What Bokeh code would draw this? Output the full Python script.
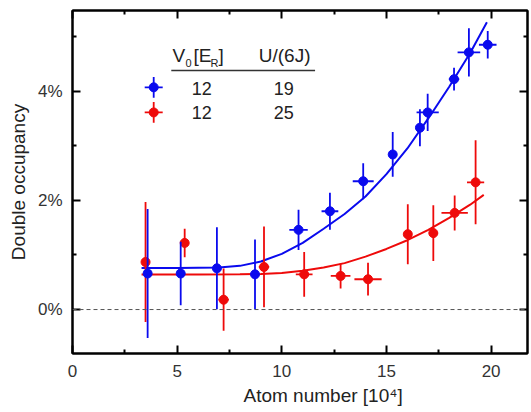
from bokeh.plotting import figure
from bokeh.models import (Range1d, FixedTicker, PrintfTickFormatter, LinearAxis, Span,
                          CustomLabelingPolicy, Title)
from bokeh.core.properties import value
from bokeh.embed import file_html
from bokeh.resources import INLINE

# ---- data ----
blue_x = [3.59, 5.17, 6.90, 8.72, 10.80, 12.30, 13.89, 15.30, 16.60, 16.97, 18.23, 18.94, 19.84]
blue_y = [0.66, 0.66, 0.755, 0.645, 1.46, 1.80, 2.35, 2.84, 3.33, 3.61, 4.22, 4.71, 4.85]
blue_yerr = [1.18, 0.58, 0.75, 0.64, 0.37, 0.34, 0.33, 0.41, 0.34, 0.34, 0.21, 0.44, 0.25]
blue_xerr = [0.15, 0.15, 0.15, 0.15, 0.44, 0.40, 0.50, 0.15, 0.15, 0.53, 0.25, 0.54, 0.42]

red_x = [3.49, 5.36, 7.22, 9.15, 11.07, 12.81, 14.12, 16.02, 17.24, 18.26, 19.26]
red_y = [0.87, 1.22, 0.18, 0.78, 0.645, 0.615, 0.555, 1.38, 1.40, 1.77, 2.33]
red_yerr = [1.10, 0.26, 0.57, 0.74, 0.41, 0.23, 0.30, 0.55, 0.51, 0.32, 0.77]
red_xerr = [0.10, 0.20, 0.25, 0.25, 0.40, 0.47, 0.65, 0.10, 0.21, 0.63, 0.41]

blue_fit_x = [3.3, 5, 7, 8, 9, 10, 11, 12, 13, 14, 15, 16, 17, 18, 19, 19.8]
blue_fit_y = [0.76, 0.76, 0.77, 0.80, 0.88, 1.02, 1.22, 1.48, 1.75, 2.07, 2.48, 2.95, 3.50, 4.08, 4.70, 5.26]
red_fit_x = [3.3, 6, 8, 9, 10, 11, 12, 13, 14, 15, 16, 17, 18, 19, 19.65]
red_fit_y = [0.64, 0.64, 0.645, 0.65, 0.67, 0.71, 0.77, 0.85, 0.97, 1.11, 1.27, 1.46, 1.68, 1.92, 2.10]

x_ticks = [0, 5, 10, 15, 20]
x_minor = [2.5, 7.5, 12.5, 17.5]
y_ticks = [0, 2, 4]
y_minor = [-1, 1, 3, 5]

legend_v0 = ["12", "12"]
legend_u = ["19", "25"]

BLUE = "#0a0aee"
RED = "#ee0a0a"
TXT = "#222222"
FONT = "Liberation Sans"

p = figure(width=531, height=412, output_backend="svg", toolbar_location=None,
           x_range=Range1d(0, 21.74), y_range=Range1d(-0.805, 5.477),
           min_border_left=72, min_border_right=0, min_border_top=10, min_border_bottom=59)
p.grid.visible = False
p.outline_line_color = "black"
p.outline_line_width = 2
p.background_fill_color = "white"
p.border_fill_color = "white"

no_labels = CustomLabelingPolicy(code="""
    for (let i = 0; i < indices.size; i++) { indices.unset(i) }
    return indices
""")

def style_axis(ax, labels=True):
    ax.axis_line_width = 2
    ax.axis_line_color = "black"
    ax.major_tick_in = 8
    ax.major_tick_out = 0
    ax.minor_tick_in = 4
    ax.minor_tick_out = 0
    ax.major_tick_line_width = 2
    ax.minor_tick_line_width = 2
    ax.major_label_text_font = FONT
    ax.major_label_text_color = "#333333"
    ax.axis_label_text_font = FONT
    ax.axis_label_text_font_style = "normal"
    ax.axis_label_text_color = TXT
    if labels:
        ax.major_label_text_font_size = "17px"
        ax.axis_label_text_font_size = "19px"
    else:
        ax.major_label_text_font_size = "1px"
        ax.major_label_standoff = 0
        ax.major_label_policy = no_labels

xt = FixedTicker(ticks=x_ticks, minor_ticks=x_minor)
yt = FixedTicker(ticks=y_ticks, minor_ticks=y_minor)

p.xaxis.ticker = xt
p.yaxis.ticker = yt
p.yaxis.formatter = PrintfTickFormatter(format="%d%%")
p.yaxis.axis_label = "Double occupancy"
for ax in p.xaxis + p.yaxis:
    style_axis(ax)
p.xaxis.major_label_standoff = 11
p.yaxis.major_label_standoff = 10
p.yaxis.axis_label_standoff = 6

# x-axis title, placed off-centre as in the reference
xtitle = Title(text="Atom number [10\u2074]", align="left", offset=171,
               text_font=FONT, text_font_size="19px", text_font_style="normal",
               text_color=TXT, standoff=6)
p.add_layout(xtitle, "below")

top = LinearAxis(ticker=FixedTicker(ticks=x_ticks, minor_ticks=x_minor))
style_axis(top, labels=False)
p.add_layout(top, "above")
right = LinearAxis(ticker=FixedTicker(ticks=y_ticks, minor_ticks=y_minor))
style_axis(right, labels=False)
p.add_layout(right, "right")

p.add_layout(Span(location=0, dimension="width", line_color="#555555",
                  line_dash="4 3", line_width=1))

# fits
p.line(red_fit_x, red_fit_y, line_color=RED, line_width=2)
p.line(blue_fit_x, blue_fit_y, line_color=BLUE, line_width=2)

def draw_series(xs, ys, xe, ye, color):
    p.segment(x0=xs, x1=xs, y0=[y - e for y, e in zip(ys, ye)],
              y1=[y + e for y, e in zip(ys, ye)], line_color=color, line_width=1.8)
    p.segment(x0=[x - e for x, e in zip(xs, xe)], x1=[x + e for x, e in zip(xs, xe)],
              y0=ys, y1=ys, line_color=color, line_width=1.8)
    p.scatter(xs, ys, size=9, fill_color=color, line_color=color)

draw_series(red_x, red_y, red_xerr, red_yerr, RED)
draw_series(blue_x, blue_y, blue_xerr, blue_yerr, BLUE)

# ---- legend table ----
lx = 3.88
ly = [4.07, 3.61]
lty = [4.044, 3.616]
lcol = [BLUE, RED]
for yy, c in zip(ly, lcol):
    p.segment(x0=[lx], x1=[lx], y0=[yy - 0.19], y1=[yy + 0.19], line_color=c, line_width=1.8)
    p.segment(x0=[lx - 0.43], x1=[lx + 0.43], y0=[yy], y1=[yy], line_color=c, line_width=1.8)
    p.scatter([lx], [yy], size=9, fill_color=c, line_color=c)

p.text(x=[6.18, 6.18], y=lty, text=legend_v0, text_align="center", text_baseline="middle",
       text_font=value(FONT), text_font_size="18px", text_color=TXT)
p.text(x=[10.09, 10.09], y=lty, text=legend_u, text_align="center", text_baseline="middle",
       text_font=value(FONT), text_font_size="18px", text_color=TXT)

hx = 4.78
hy = 4.65
p.text(x=[hx, hx, hx], y=[hy, hy, hy], text=["V", "[E", "]"], x_offset=[0, 21, 46],
       text_align="left", text_baseline="middle", text_font=value(FONT),
       text_font_size="19px", text_color=TXT)
p.text(x=[hx, hx], y=[hy, hy], text=["0", "R"], x_offset=[13, 38], y_offset=[7, 7],
       text_align="left", text_baseline="middle", text_font=value(FONT),
       text_font_size="11px", text_color=TXT)
p.text(x=[8.90], y=[hy], text=["U/(6J)"], text_align="left", text_baseline="middle",
       text_font=value(FONT), text_font_size="19px", text_color=TXT)
p.segment(x0=[4.72], x1=[11.59], y0=[4.38], y1=[4.38], line_color="#333333", line_width=1.5)

open("out.html", "w").write(file_html(p, INLINE))
